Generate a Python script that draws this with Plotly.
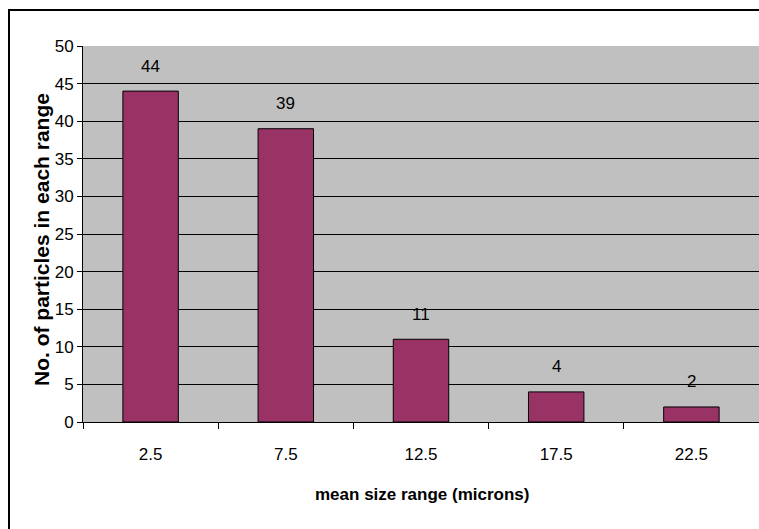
import plotly.graph_objects as go

categories = ["2.5", "7.5", "12.5", "17.5", "22.5"]
counts = [44, 39, 11, 4, 2]
y_ticks = [0, 5, 10, 15, 20, 25, 30, 35, 40, 45, 50]
x_title = "mean size range (microns)"
y_title = "No. of particles in each range"

W, H = 759, 529
L, R, T, B = 83, 0, 46, 107
pw = W - L - R
ph = H - T - B

fig = go.Figure()
fig.add_trace(go.Bar(
    x=categories, y=counts, width=0.41,
    marker=dict(color="#993366", line=dict(color="black", width=1)),
    hoverinfo="skip",
))

for i, v in enumerate(counts):
    fig.add_annotation(x=i, y=v, text=str(v), showarrow=False,
                       yshift=25, yanchor="middle",
                       font=dict(family="Arial, Liberation Sans", size=17, color="black"))

fig.add_annotation(xref="paper", yref="paper",
                   x=(422 - L) / pw, y=(H - B - 495) / ph,
                   text="<b>" + x_title + "</b>", showarrow=False,
                   xanchor="center", yanchor="middle",
                   font=dict(family="Arial, Liberation Sans", size=17, color="black"))
fig.add_annotation(xref="paper", yref="paper",
                   x=(41 - L) / pw, y=(H - B - 240) / ph,
                   text="<b>" + y_title + "</b>", showarrow=False, textangle=-90,
                   xanchor="center", yanchor="middle",
                   font=dict(family="Arial, Liberation Sans", size=21, color="black"))

# outer chart border: left and top edges (right/bottom lie outside the frame)
bx0 = (9 - L) / pw
by1 = (H - B - 10) / ph
bx1 = (W + 40 - L) / pw
by0 = (H - B - (H + 40)) / ph
fig.add_shape(type="path", xref="paper", yref="paper",
              path=f"M {bx0},{by0} L {bx0},{by1} L {bx1},{by1}",
              line=dict(color="black", width=2), layer="below")

fig.update_layout(
    width=W, height=H,
    margin=dict(l=L, r=R, t=T, b=B),
    paper_bgcolor="white", plot_bgcolor="#C0C0C0",
    showlegend=False,
    font=dict(family="Arial, Liberation Sans", size=17, color="black"),
    bargap=0.59,
)
fig.update_xaxes(
    type="category", range=[-0.5, 4.5],
    showline=True, linecolor="black", linewidth=1,
    ticks="outside", tickson="boundaries", ticklen=6, tickcolor="black",
    ticklabelstandoff=17,
    showgrid=False, tickfont=dict(size=17),
)
fig.update_yaxes(
    range=[0, 50], tickvals=y_ticks,
    showline=True, linecolor="black", linewidth=1,
    ticks="outside", ticklen=5, tickcolor="black",
    showgrid=True, gridcolor="black", gridwidth=1,
    zeroline=False, tickfont=dict(size=17),
)

fig.write_html("out.html")
